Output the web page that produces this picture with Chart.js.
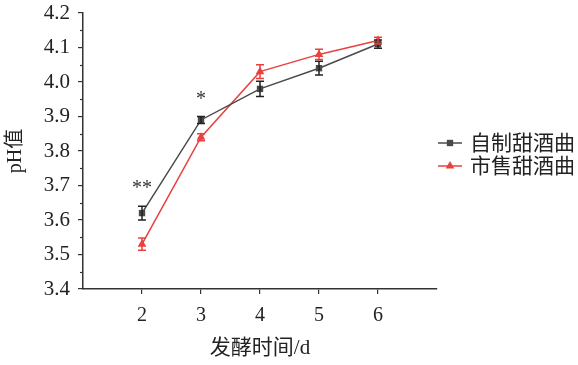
<!DOCTYPE html>
<html>
<head>
<meta charset="utf-8">
<script src="https://cdn.jsdelivr.net/npm/chart.js@4"></script>
<style>
  html, body { margin: 0; padding: 0; background: #fff; }
</style>
</head>
<body>
<canvas id="chart" width="578" height="365"></canvas>
<script>
// fermentation days
const days = [2, 3, 4, 5, 6];
// 自制甜酒曲 (home-made)
const homeMade = [3.62, 3.89, 3.98, 4.04, 4.11];
const homeMadeErr = [0.02, 0.01, 0.022, 0.02, 0.012];
// 市售甜酒曲 (commercial)
const commercial = [3.53, 3.84, 4.03, 4.08, 4.12];
const commercialErr = [0.018, 0.01, 0.02, 0.015, 0.01];
// significance marks
const markDays = [2, 3];
const markValues = [3.69, 3.95];
const markText = ["**", "*"];

const seriesNames = ["自制甜酒曲", "市售甜酒曲"];
const serif = "'Liberation Serif', 'Noto Sans CJK SC', serif";
const grey = "#4a4a4a";
const red = "#e8413f";
const axisColor = "#333";

const errorBars = {
  id: "errorBars",
  afterDatasetsDraw(chart) {
    const { ctx, scales: { x, y } } = chart;
    const errs = [homeMadeErr, commercialErr];
    const colors = ["#222", red];
    chart.data.datasets.forEach((ds, i) => {
      ctx.save();
      ctx.strokeStyle = colors[i];
      ctx.lineWidth = 1.5;
      ds.data.forEach((p, j) => {
        const px = x.getPixelForValue(p.x);
        const top = y.getPixelForValue(p.y + errs[i][j]);
        const bot = y.getPixelForValue(p.y - errs[i][j]);
        ctx.beginPath();
        ctx.moveTo(px, top); ctx.lineTo(px, bot);
        ctx.moveTo(px - 4, top); ctx.lineTo(px + 4, top);
        ctx.moveTo(px - 4, bot); ctx.lineTo(px + 4, bot);
        ctx.stroke();
      });
      ctx.restore();
    });
  },
  afterDraw(chart) {
    const { ctx, scales: { x, y } } = chart;
    ctx.save();
    // minor ticks on y axis
    ctx.strokeStyle = axisColor;
    ctx.lineWidth = 1.2;
    for (let v = 3.45; v < 4.2; v += 0.1) {
      const py = Math.round(y.getPixelForValue(v)) + 0.5;
      ctx.beginPath();
      ctx.moveTo(x.left - 3, py); ctx.lineTo(x.left, py);
      ctx.stroke();
    }
    // significance marks
    ctx.fillStyle = "#333";
    ctx.font = "20px " + serif;
    ctx.textAlign = "center";
    ctx.textBaseline = "middle";
    markDays.forEach((d, i) => {
      ctx.fillText(markText[i], x.getPixelForValue(d), y.getPixelForValue(markValues[i]));
    });
    // legend
    const styles = [
      { color: grey, point: "rect", r: 4.5 },
      { color: red, point: "triangle", r: 5 }
    ];
    ctx.textAlign = "left";
    ctx.font = "21px " + serif;
    seriesNames.forEach((name, i) => {
      const ly = 143 + i * 23;
      ctx.strokeStyle = styles[i].color;
      ctx.lineWidth = 1.5;
      ctx.beginPath();
      ctx.moveTo(438, ly); ctx.lineTo(462, ly);
      ctx.stroke();
      ctx.fillStyle = styles[i].color;
      Chart.helpers.drawPoint(ctx, { pointStyle: styles[i].point, radius: styles[i].r, borderWidth: 0 }, 450, ly);
      ctx.fillStyle = "#222";
      ctx.fillText(name, 470, ly + 1);
    });
    ctx.restore();
  }
};

new Chart(document.getElementById("chart").getContext("2d"), {
  type: "line",
  data: {
    datasets: [
      {
        label: seriesNames[0],
        data: days.map((d, i) => ({ x: d, y: homeMade[i] })),
        borderColor: grey,
        backgroundColor: grey,
        borderWidth: 1.5,
        pointStyle: "rect",
        pointRadius: 4.5,
        pointBorderWidth: 0
      },
      {
        label: seriesNames[1],
        data: days.map((d, i) => ({ x: d, y: commercial[i] })),
        borderColor: red,
        backgroundColor: red,
        borderWidth: 1.5,
        pointStyle: "triangle",
        pointRadius: 5,
        pointBorderWidth: 0
      }
    ]
  },
  options: {
    responsive: false,
    animation: false,
    layout: { padding: { top: 13, right: 141, left: 0, bottom: 0 } },
    plugins: { legend: { display: false }, tooltip: { enabled: false } },
    scales: {
      x: {
        type: "linear",
        min: 1,
        max: 7,
        afterBuildTicks: s => { s.ticks = s.ticks.filter(t => t.value >= 2 && t.value <= 6); },
        afterFit: s => { s.height = 76; s.paddingLeft = 0; s.paddingRight = 0; },
        ticks: { stepSize: 1, color: "#222", font: { family: serif, size: 20 }, padding: 10 },
        grid: { drawOnChartArea: false, tickLength: 5, color: axisColor, lineWidth: 1.2 },
        border: { color: axisColor, width: 1.5 },
        title: { display: true, text: "发酵时间/d", color: "#222", font: { family: serif, size: 21 }, padding: { top: 4 } }
      },
      y: {
        min: 3.4,
        max: 4.2,
        afterFit: s => { s.width = 83; s.paddingTop = 0; s.paddingBottom = 0; },
        ticks: { stepSize: 0.1, color: "#222", font: { family: serif, size: 21 }, padding: 8, callback: v => v.toFixed(1) },
        grid: { drawOnChartArea: false, tickLength: 5, color: axisColor, lineWidth: 1.2 },
        border: { color: axisColor, width: 1.5 },
        title: { display: true, text: "pH值", color: "#222", font: { family: serif, size: 20 }, padding: { bottom: 2 } }
      }
    }
  },
  plugins: [errorBars]
});
</script>
</body>
</html>
